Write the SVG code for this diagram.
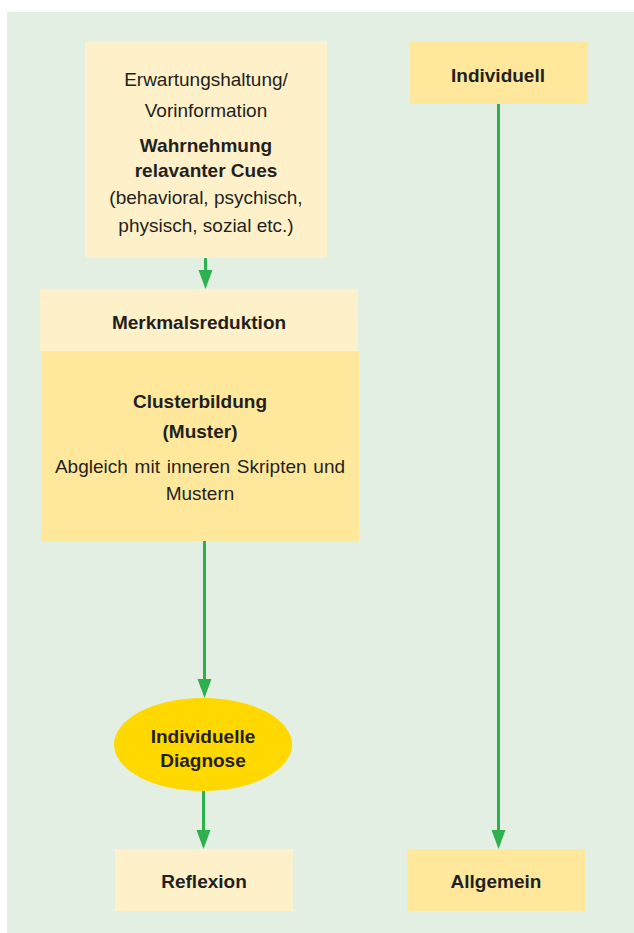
<svg xmlns="http://www.w3.org/2000/svg" width="634" height="933" viewBox="0 0 634 933">
<defs>
<style>
.t{font-family:"Liberation Sans",Arial,sans-serif;font-size:19px;fill:#231f20;text-anchor:middle}
.b{font-weight:bold}
.pale{fill:#fef0c9}
.mid{fill:#ffe89b}
.con{stroke:#2eb04f;stroke-width:3;fill:none}
.head{fill:#2eb04f}
</style>
</defs>
<rect width="634" height="933" fill="#ffffff"/>
<rect x="7" y="12" width="627" height="921" fill="#e3efe2"/>
<g id="connectors">
<line class="con" x1="205.5" y1="258" x2="205.5" y2="271"/>
<path class="head" d="M198.5,270 L212.5,270 L205.5,289 Z"/>
<line class="con" x1="204.5" y1="541" x2="204.5" y2="680"/>
<path class="head" d="M197.5,679 L211.5,679 L204.5,698 Z"/>
<line class="con" x1="203.5" y1="791" x2="203.5" y2="831"/>
<path class="head" d="M196.5,830 L210.5,830 L203.5,849 Z"/>
<line class="con" x1="498.5" y1="104" x2="498.5" y2="831"/>
<path class="head" d="M491.5,830 L505.5,830 L498.5,849 Z"/>
</g>
<g id="node-wahrnehmung">
<rect class="pale" x="85" y="41" width="242" height="217"/>
<text class="t" x="206" y="86">Erwartungshaltung/</text>
<text class="t" x="206" y="117">Vorinformation</text>
<text class="t b" x="206" y="152">Wahrnehmung</text>
<text class="t b" x="206" y="177">relavanter Cues</text>
<text class="t" x="206" y="204">(behavioral, psychisch,</text>
<text class="t" x="206" y="232">physisch, sozial etc.)</text>
</g>
<g id="node-individuell">
<rect class="mid" x="410" y="42" width="178" height="62"/>
<text class="t b" x="498" y="82">Individuell</text>
</g>
<g id="node-merkmalsreduktion">
<rect class="pale" x="40" y="289" width="318" height="62"/>
<text class="t b" x="199" y="329">Merkmalsreduktion</text>
</g>
<g id="node-clusterbildung">
<rect class="mid" x="41" y="351" width="318" height="190"/>
<text class="t b" x="200" y="408">Clusterbildung</text>
<text class="t b" x="200" y="438">(Muster)</text>
<text class="t" x="200" y="473" word-spacing="1.5">Abgleich mit inneren Skripten und</text>
<text class="t" x="200" y="500">Mustern</text>
</g>
<g id="node-diagnose">
<ellipse cx="203" cy="744.5" rx="89" ry="46.5" fill="#ffd800"/>
<text class="t b" x="203" y="743">Individuelle</text>
<text class="t b" x="203" y="767">Diagnose</text>
</g>
<g id="node-reflexion">
<rect class="pale" x="115" y="849" width="178" height="62"/>
<text class="t b" x="204" y="888">Reflexion</text>
</g>
<g id="node-allgemein">
<rect class="mid" x="407" y="849" width="178" height="62"/>
<text class="t b" x="496" y="888">Allgemein</text>
</g>
</svg>
